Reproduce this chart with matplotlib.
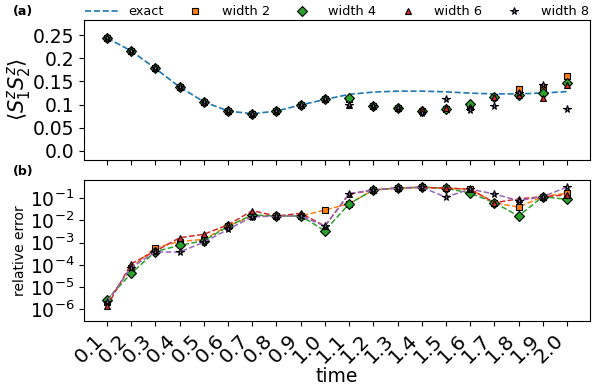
import numpy as np
import matplotlib
matplotlib.use("Agg")
import matplotlib.pyplot as plt

times = [0.1, 0.2, 0.3, 0.4, 0.5, 0.6, 0.7, 0.8, 0.9, 1.0,
         1.1, 1.2, 1.3, 1.4, 1.5, 1.6, 1.7, 1.8, 1.9, 2.0]
tick_labels = ["0.1", "0.2", "0.3", "0.4", "0.5", "0.6", "0.7", "0.8", "0.9", "1.0",
               "1.1", "1.2", "1.3", "1.4", "1.5", "1.6", "1.7", "1.8", "1.9", "2.0"]

exact = [0.244, 0.216, 0.178, 0.138, 0.106, 0.086, 0.080, 0.086, 0.099, 0.111,
         0.122, 0.127, 0.129, 0.129, 0.1275, 0.1247, 0.123, 0.123, 0.125, 0.128]

w2 = [0.244, 0.216, 0.178, 0.138, 0.106, 0.086, 0.080, 0.086, 0.099, 0.111,
      0.112, 0.096, 0.093, 0.086, 0.0895, 0.095, 0.1167, 0.1327, 0.139, 0.162]
w4 = [0.244, 0.216, 0.178, 0.138, 0.106, 0.086, 0.080, 0.086, 0.099, 0.111,
      0.114, 0.096, 0.093, 0.086, 0.0895, 0.102, 0.1167, 0.121, 0.124, 0.147]
w6 = [0.244, 0.216, 0.178, 0.138, 0.106, 0.086, 0.080, 0.086, 0.099, 0.111,
      0.100, 0.096, 0.093, 0.090, 0.0915, 0.095, 0.1167, 0.120, 0.114, 0.142]
w8 = [0.244, 0.216, 0.178, 0.138, 0.106, 0.086, 0.080, 0.086, 0.099, 0.111,
      0.100, 0.096, 0.093, 0.082, 0.113, 0.088, 0.0966, 0.125, 0.142, 0.090]

# log10 of relative error
e2 = [-5.65, -4.12, -3.22, -2.95, -2.85, -2.25, -1.80, -1.80, -1.80, -1.53,
      -1.25, -0.63, -0.54, -0.51, -0.55, -0.59, -1.20, -1.40, -0.93, -0.77]
e4 = [-5.56, -4.38, -3.40, -3.12, -2.91, -2.27, -1.75, -1.80, -1.80, -2.46,
      -1.25, -0.63, -0.54, -0.51, -0.55, -0.77, -1.20, -1.80, -0.93, -1.05]
e6 = [-5.86, -3.95, -3.38, -2.78, -2.62, -2.20, -1.56, -1.80, -1.68, -2.25,
      -0.82, -0.63, -0.54, -0.51, -0.55, -0.59, -1.20, -1.03, -0.93, -0.85]
e8 = [-5.66, -4.12, -3.42, -3.42, -2.98, -2.40, -1.84, -1.80, -1.80, -2.25,
      -0.79, -0.63, -0.54, -0.51, -0.95, -0.59, -0.81, -1.11, -0.93, -0.50]

labels = ["width 2", "width 4", "width 6", "width 8"]
markers = ["s", "D", "^", "*"]
colors = ["C1", "C2", "C3", "C4"]
sizes = [5, 5, 5, 5.5]

fig = plt.figure(figsize=(6.01, 3.88), dpi=100)
ax1 = fig.add_axes([84/601, 1-160/388, (590-84)/601, (160-19.5)/388])
ax2 = fig.add_axes([84/601, 1-321/388, (590-84)/601, (321-180)/388])

ax1.plot(times, exact, "--", color="C0", lw=1.2, label="exact")
for vals, lab, m, c, s in zip([w2, w4, w6, w8], labels, markers, colors, sizes):
    ax1.plot(times, vals, ls="none", marker=m, color=c, mec="k", mew=0.8, ms=s, label=lab)

for vals, lab, m, c, s in zip([e2, e4, e6, e8], labels, markers, colors, sizes):
    ax2.plot(times, 10.0 ** np.array(vals), "--", marker=m, color=c, mfc=c, mec="k",
             mew=0.8, ms=s, lw=1.1, label=lab)

ax1.set_xlim(0.005, 2.095)
ax1.set_ylim(-0.02, 0.284)
ax1.set_yticks([0.0, 0.05, 0.1, 0.15, 0.2, 0.25])
ax1.set_yticklabels(["0.0", "0.05", "0.1", "0.15", "0.2", "0.25"], fontsize=13.5)
ax1.set_xticks(times)
ax1.set_xticklabels([])
ax1.set_ylabel(r"$\langle S_1^z S_2^z\rangle$", fontsize=15, labelpad=0)

ax2.set_yscale("log")
ax2.set_xlim(0.005, 2.095)
ax2.set_ylim(3e-7, 0.66)
ax2.set_yticks([1e-6, 1e-5, 1e-4, 1e-3, 1e-2, 1e-1])
ax2.minorticks_off()
ax2.tick_params(axis="y", labelsize=13.5)
ax2.set_xticks(times)
ax2.set_xticklabels(tick_labels, rotation=45, fontsize=14.5, ha="right")
ax2.set_xlabel("time", fontsize=13.5, labelpad=0)
ax2.set_ylabel("relative error", fontsize=10, labelpad=2)

ax1.legend(loc="lower left", bbox_to_anchor=(0.0, 1.0, 1.0, 0.15), mode="expand",
           ncol=5, frameon=False, fontsize=9.3, borderaxespad=0.0, handlelength=2.5,
           columnspacing=1.0, borderpad=0.1)

fig.text(13/601, 1-12/388, "(a)", fontsize=9, fontweight="bold", va="center")
fig.text(13/601, 1-172/388, "(b)", fontsize=9, fontweight="bold", va="center")

fig.savefig("out.png", dpi=100)
